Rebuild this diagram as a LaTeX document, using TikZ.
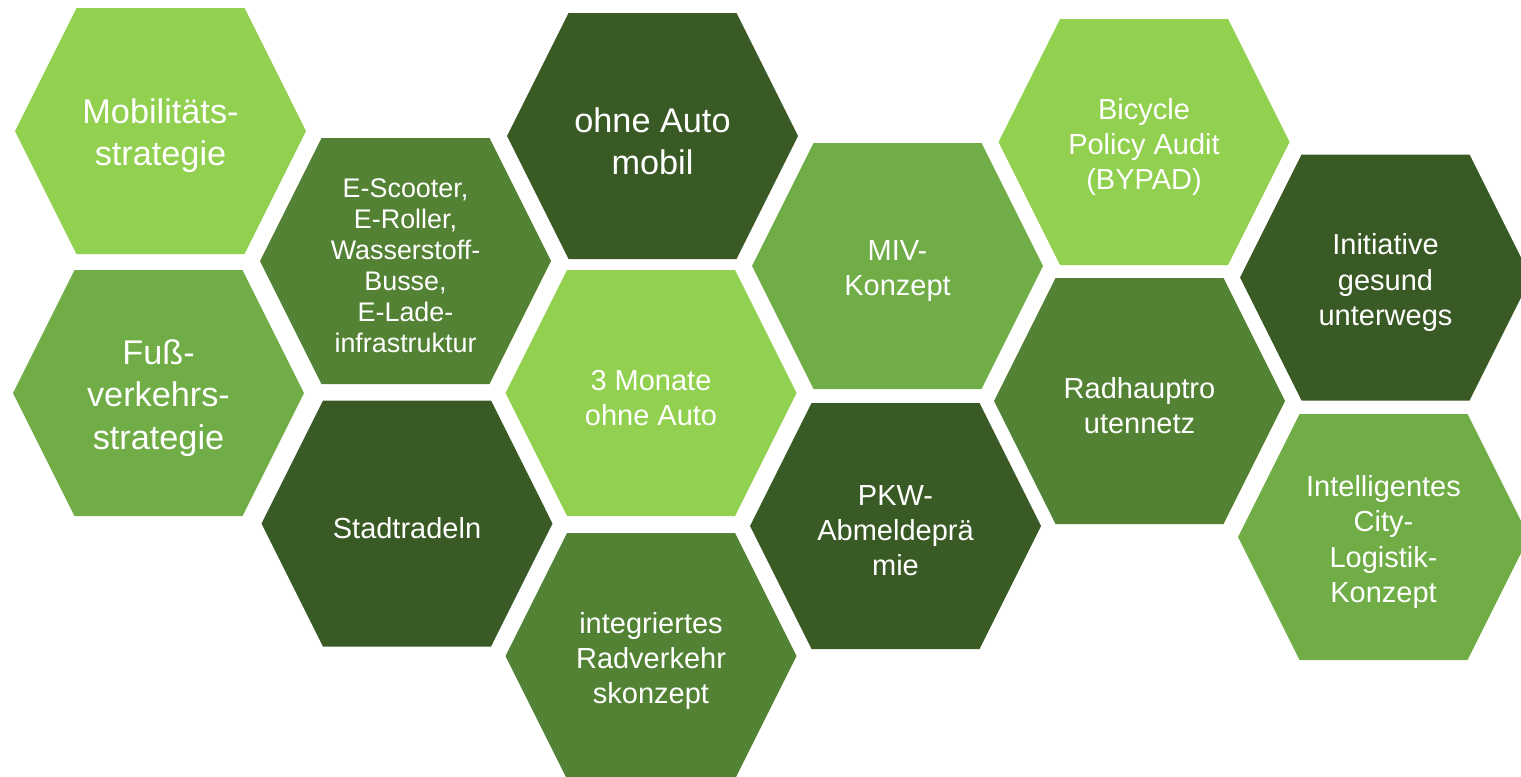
\documentclass[tikz,border=0pt]{standalone}
\usepackage{fontspec}
\setmainfont{Liberation Sans}
\usepackage{tikz}
\usetikzlibrary{positioning}
\usepackage{xcolor}

\definecolor{hexlight}{HTML}{92D050}
\definecolor{hexmid}{HTML}{70AD47}
\definecolor{hexdeep}{HTML}{548235}
\definecolor{hexdark}{HTML}{3A5A25}

\begin{document}
\begin{tikzpicture}[
    hexcell/.style={minimum width=5.82cm, minimum height=5.2cm, inner sep=0pt, align=center, text=white,
        font=\fontsize{16.5}{20}\selectfont, yshift=-0.1cm,
        path picture={\fill[#1] ([xshift=-2.91cm, yshift=0.1cm]path picture bounding box.center) -- ++(1.23,2.46) -- ++(3.36,0) -- ++(1.23,-2.46) -- ++(-1.23,-2.46) -- ++(-3.36,0) -- cycle;}},
    bigtext/.style={font=\fontsize{19.5}{24}\selectfont},
    smalltext/.style={font=\fontsize{15.3}{17.6}\selectfont}
]
\useasboundingbox (0,0) rectangle (30.42,-15.52);

% first column
\node[hexcell=hexlight, bigtext] (mobstrat) at (3.21,-2.62) {Mobilitäts-\\strategie};
\node[hexcell=hexmid, bigtext] (fussverkehr) at (3.17,-7.86) {Fuß-\\verkehrs-\\strategie};

% second column
\node[hexcell=hexdeep, smalltext] (emobil) at (8.11,-5.22) {E-Scooter,\\E-Roller,\\Wasserstoff-\\Busse,\\E-Lade-\\infrastruktur};
\node[hexcell=hexdark] (stadtradeln) at (8.14,-10.47) {Stadtradeln};

% middle column
\node[hexcell=hexdark, bigtext] (ohneauto) at (13.05,-2.72) {ohne Auto\\mobil};
\node[hexcell=hexlight] (dreimonate) at (13.02,-7.86) {3 Monate\\ohne Auto};
\node[hexcell=hexdeep] (radkonzept) at (13.02,-13.12) {integriertes\\Radverkehr\\skonzept};

% fourth column
\node[hexcell=hexmid] (miv) at (17.95,-5.32) {MIV-\\Konzept};
\node[hexcell=hexdark] (pkw) at (17.91,-10.52) {PKW-\\Abmeldeprä\\mie};

% fifth column
\node[hexcell=hexlight] (bypad) at (22.88,-2.84) {Bicycle\\Policy Audit\\(BYPAD)};
\node[hexcell=hexdeep] (radnetz) at (22.79,-8.02) {Radhauptro\\utennetz};

% last column
\node[hexcell=hexdark] (gesund) at (27.71,-5.55) {Initiative\\gesund\\unterwegs};
\node[hexcell=hexmid] (logistik) at (27.67,-10.74) {Intelligentes\\City-\\Logistik-\\Konzept};

\end{tikzpicture}
\end{document}
